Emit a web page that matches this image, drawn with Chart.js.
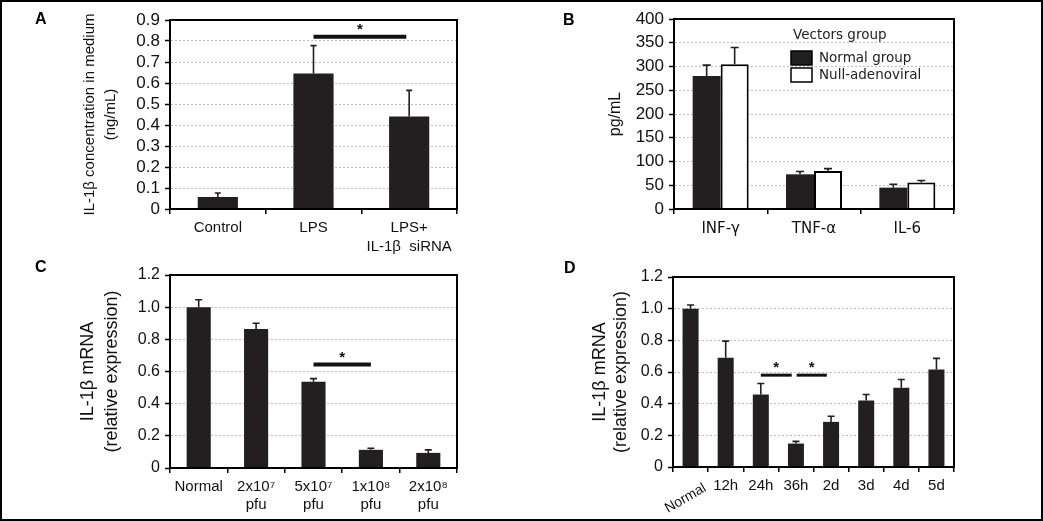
<!DOCTYPE html>
<html><head><meta charset="utf-8">
<script src="https://cdn.jsdelivr.net/npm/chart.js@4/dist/chart.umd.min.js"></script>
<style>
html,body{margin:0;padding:0;background:#fff}
#wrap{position:relative;width:1043px;height:521px;overflow:hidden;background:#fff}
#frame{position:absolute;left:0;top:0;width:1043px;height:521px;box-sizing:border-box;border:2px solid #000;pointer-events:none;z-index:5}
canvas{position:absolute}
.pl{position:absolute;font:bold 16px "Liberation Sans",Arial,sans-serif;line-height:16px;color:#000}
</style></head><body>
<div id="wrap">
<canvas id="cA" width="520" height="260" style="left:0;top:0;width:520px;height:260px"></canvas>
<canvas id="cB" width="523" height="260" style="left:520px;top:0;width:523px;height:260px"></canvas>
<canvas id="cC" width="520" height="261" style="left:0;top:260px;width:520px;height:261px"></canvas>
<canvas id="cD" width="523" height="261" style="left:520px;top:260px;width:523px;height:261px"></canvas>
<div class="pl" style="left:35px;top:11px">A</div>
<div class="pl" style="left:563px;top:12px">B</div>
<div class="pl" style="left:35px;top:259px">C</div>
<div class="pl" style="left:564px;top:260px">D</div>
<div id="frame"></div>
</div>
<script>
// ---------- data ----------
// Panel A
const catsA = ['Control', 'LPS', ['LPS+', 'IL-1β  siRNA']];
const valsA = [0.057, 0.645, 0.44];
const errA = [0.019, 0.133, 0.125];
const sigA = [[1, 1.97, 0.82]];
const yTitleA = ['IL-1β concentration in medium', '(ng/mL)'];

// Panel B
const catsB = ['INF-γ', 'TNF-α', 'IL-6'];
const legendTitleB = 'Vectors group';
const seriesB = ['Normal group', 'Null-adenoviral'];
const normalB = [280, 73, 45];
const normalErrB = [23, 6, 7];
const nullB = [305, 80, 56];
const nullErrB = [35, 5, 4];
const yTitleB = 'pg/mL';

// Panel C
const catsC = ['Normal', ['2x10⁷', 'pfu'], ['5x10⁷', 'pfu'], ['1x10⁸', 'pfu'], ['2x10⁸', 'pfu']];
const valsC = [1.0, 0.865, 0.537, 0.113, 0.094];
const errC = [0.046, 0.035, 0.019, 0.01, 0.019];
const sigC = [[2, 3, 0.643]];
const yTitleC = ['IL-1β mRNA', '(relative expression)'];

// Panel D
const catsD = ['Normal', '12h', '24h', '36h', '2d', '3d', '4d', '5d'];
const valsD = [1.0, 0.69, 0.458, 0.148, 0.285, 0.42, 0.50, 0.616];
const errD = [0.023, 0.105, 0.069, 0.014, 0.036, 0.038, 0.053, 0.07];
const sigD = [[2, 2.88, 0.58], [3.02, 3.88, 0.58]];
const yTitleD = ['IL-1β mRNA', '(relative expression)'];

// ---------- styling ----------
const SANS = '"Liberation Sans", Arial, sans-serif';
const DEJAVU = '"DejaVu Sans", Verdana, sans-serif';
const BAR = '#231f20';

function extrasPlugin(cfg) {
  return {
    id: 'extras',
    afterDatasetsDraw(chart) {
      const ctx = chart.ctx, xS = chart.scales.x, yS = chart.scales.y, a = chart.chartArea;
      ctx.save();
      chart.data.datasets.forEach((ds, di) => {
        if (!ds.errors) return;
        const meta = chart.getDatasetMeta(di);
        meta.data.forEach((bar, i) => {
          const v = ds.data[i], e = ds.errors[i];
          const y0 = yS.getPixelForValue(v), y1 = yS.getPixelForValue(v + e);
          ctx.strokeStyle = BAR; ctx.lineWidth = 1.6;
          ctx.beginPath();
          ctx.moveTo(bar.x, y0); ctx.lineTo(bar.x, y1);
          ctx.moveTo(bar.x - cfg.cap, y1); ctx.lineTo(bar.x + cfg.cap, y1);
          ctx.stroke();
        });
      });
      // frame of plot area
      ctx.strokeStyle = '#000'; ctx.lineWidth = 2;
      ctx.strokeRect(a.left, a.top, a.right - a.left, a.bottom - a.top);
      // significance lines
      (cfg.sig || []).forEach(([f, t, y]) => {
        const x0 = xS.getPixelForValue(f), x1 = xS.getPixelForValue(t), py = yS.getPixelForValue(y);
        ctx.strokeStyle = '#111'; ctx.lineWidth = cfg.sigWidth;
        ctx.beginPath(); ctx.moveTo(x0, py); ctx.lineTo(x1, py); ctx.stroke();
        ctx.fillStyle = '#111'; ctx.font = 'bold 15px ' + SANS;
        ctx.textAlign = 'center'; ctx.textBaseline = 'alphabetic';
        ctx.fillText('*', (x0 + x1) / 2, py + cfg.starDy);
      });
      // custom legend
      if (cfg.legend) {
        const L = cfg.legend;
        const lx = a.left + L.dx, ly = a.top + L.dy;
        ctx.font = '13.5px ' + DEJAVU; ctx.fillStyle = '#222';
        ctx.textAlign = 'left'; ctx.textBaseline = 'middle';
        ctx.fillText(L.title, lx + 2, ly);
        chart.data.datasets.forEach((ds, i) => {
          const cy = ly + 23 + i * 17;
          ctx.fillStyle = ds.backgroundColor;
          ctx.fillRect(lx, cy - 7, 21, 14);
          ctx.strokeStyle = '#000'; ctx.lineWidth = 1.5;
          ctx.strokeRect(lx, cy - 7, 21, 14);
          ctx.fillStyle = '#222';
          ctx.fillText(ds.label, lx + 28, cy);
        });
      }
      ctx.restore();
    },
    afterDraw(chart) {
      if (!cfg.rotatedFirst) return;
      const ctx = chart.ctx, xS = chart.scales.x, a = chart.chartArea;
      ctx.save();
      ctx.translate(xS.getPixelForValue(0) + 11, a.bottom + 14);
      ctx.rotate(-30 * Math.PI / 180);
      ctx.font = '14px ' + SANS; ctx.fillStyle = '#111';
      ctx.textAlign = 'right'; ctx.textBaseline = 'top';
      ctx.fillText(chart.data.labels[0], 0, 0);
      ctx.restore();
    }
  };
}

function makeChart(id, p) {
  new Chart(document.getElementById(id), {
    type: 'bar',
    data: { labels: p.labels, datasets: p.datasets },
    options: {
      responsive: false, animation: false, devicePixelRatio: 1,
      layout: { padding: p.pad },
      datasets: { bar: { categoryPercentage: p.catPct, barPercentage: p.barPct } },
      plugins: { legend: { display: false }, tooltip: { enabled: false } },
      scales: {
        x: {
          grid: { offset: true, drawOnChartArea: false, drawTicks: true, tickLength: 5, color: '#000', lineWidth: 1.5 },
          border: { display: true, color: '#000', width: 2 },
          ticks: {
            autoSkip: false, maxRotation: 0, minRotation: 0, padding: p.xPad,
            color: '#111', font: p.xFont,
            callback: p.xCallback || function (v) { return this.getLabelForValue(v); }
          },
          afterFit: s => { s.height = p.xH; }
        },
        y: {
          min: 0, max: p.max,
          grid: {
            drawTicks: true, tickLength: 5, lineWidth: 1, tickWidth: 1.5, tickBorderDash: [],
            color: c => (c.tick && c.tick.value > 0) ? '#bdbdbd' : 'rgba(0,0,0,0)',
            tickColor: '#000'
          },
          border: { display: true, color: '#000', width: 2, dash: [2, 2] },
          ticks: { stepSize: p.step, autoSkip: false, padding: 5, color: '#111', font: p.yFont, callback: p.yCallback },
          title: { display: true, text: p.title, color: '#111', font: p.titleFont, padding: 0 },
          afterFit: s => { s.width = p.yW; }
        }
      }
    },
    plugins: [extrasPlugin(p.extras)]
  });
}

const dec1 = v => (v === 0 ? '0' : (Math.round(v * 10) / 10).toFixed(1));

// Panel A
makeChart('cA', {
  labels: catsA,
  datasets: [{ data: valsA, errors: errA, backgroundColor: BAR, borderWidth: 0 }],
  pad: { left: 79, top: 20, right: 63, bottom: 0 },
  catPct: 1, barPct: 0.42,
  xPad: 4, xFont: { family: SANS, size: 15, lineHeight: 1.3 }, xH: 51,
  max: 0.9, step: 0.1, yFont: { family: SANS, size: 17 },
  yCallback: dec1,
  title: yTitleA, titleFont: { family: SANS, size: 15, lineHeight: 1.4 }, yW: 91,
  extras: { cap: 3, sig: sigA, sigWidth: 4, starDy: -3 }
});

// Panel B
makeChart('cB', {
  labels: catsB,
  datasets: [
    { label: seriesB[0], data: normalB, errors: normalErrB, backgroundColor: BAR, borderColor: '#000', borderWidth: 0 },
    { label: seriesB[1], data: nullB, errors: nullErrB, backgroundColor: '#ffffff', borderColor: '#000', borderWidth: 2 }
  ],
  pad: { left: 86, top: 19, right: 89, bottom: 0 },
  catPct: 0.6, barPct: 1,
  xPad: 6, xFont: { family: DEJAVU, size: 15 }, xH: 51,
  max: 400, step: 50, yFont: { family: SANS, size: 17 },
  yCallback: v => String(v),
  title: yTitleB, titleFont: { family: SANS, size: 16, lineHeight: 1.2 }, yW: 68,
  extras: { cap: 4, sigWidth: 0, legend: { dx: 117, dy: 16, title: legendTitleB } }
});

// Panel C
makeChart('cC', {
  labels: catsC,
  datasets: [{ data: valsC, errors: errC, backgroundColor: BAR, borderWidth: 0 }],
  pad: { left: 77, top: 15, right: 63, bottom: 0 },
  catPct: 1, barPct: 0.42,
  xPad: 5, xFont: { family: SANS, size: 15, lineHeight: 1.2 }, xH: 53,
  max: 1.2, step: 0.2, yFont: { family: SANS, size: 16 },
  yCallback: dec1,
  title: yTitleC, titleFont: { family: SANS, size: 18, lineHeight: 1.28 }, yW: 93,
  extras: { cap: 3.5, sig: sigC, sigWidth: 4, starDy: -3 }
});

// Panel D
makeChart('cD', {
  labels: catsD,
  datasets: [{ data: valsD, errors: errD, backgroundColor: BAR, borderWidth: 0 }],
  pad: { left: 70, top: 17, right: 89, bottom: 0 },
  catPct: 1, barPct: 0.456,
  xPad: 5, xFont: { family: SANS, size: 15 }, xH: 54,
  xCallback: function (v, i) { return i === 0 ? '' : this.getLabelForValue(v); },
  max: 1.2, step: 0.2, yFont: { family: SANS, size: 16 },
  yCallback: dec1,
  title: yTitleD, titleFont: { family: SANS, size: 18, lineHeight: 1.14 }, yW: 83,
  extras: { cap: 3.5, sig: sigD, sigWidth: 3, starDy: -3, rotatedFirst: true }
});
</script>
</body></html>
